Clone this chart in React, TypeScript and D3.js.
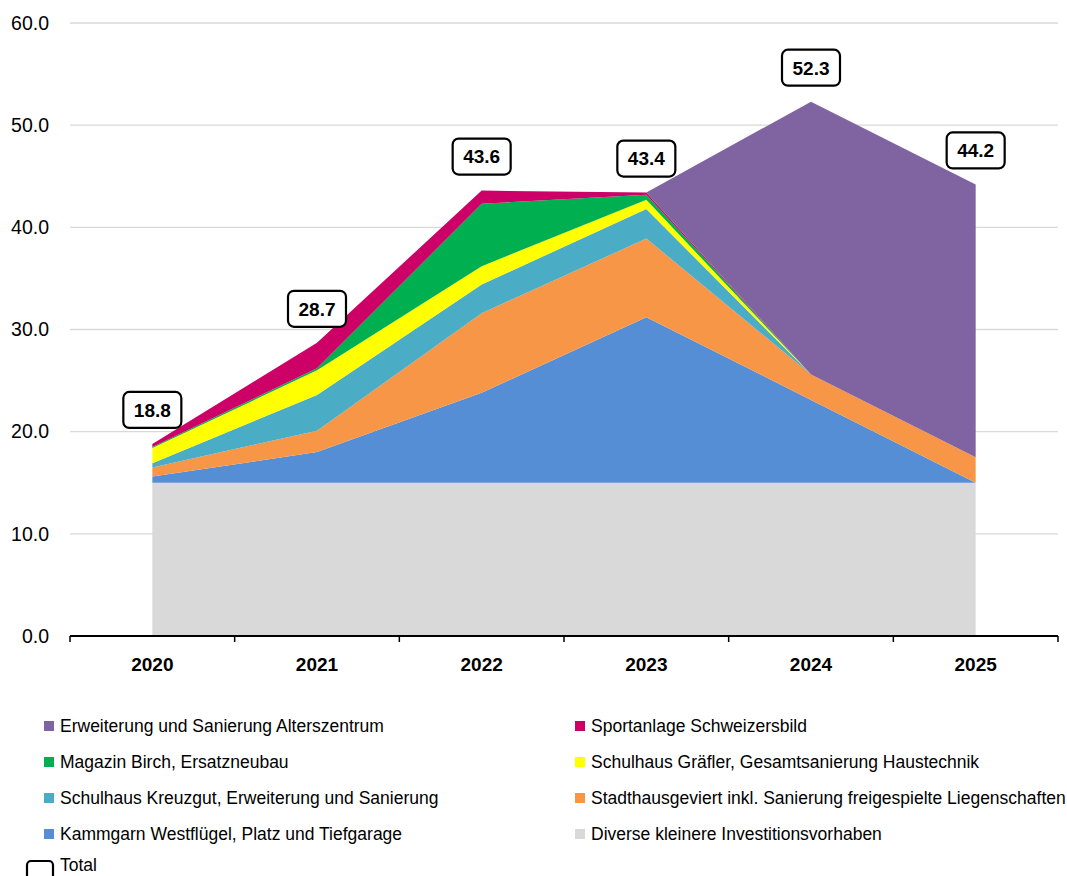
import React from "react";
import * as d3 from "d3";

const years = ["2020", "2021", "2022", "2023", "2024", "2025"];
const diverse = [15.0, 15.0, 15.0, 15.0, 15.0, 15.0];
const kammgarn = [0.6, 3.0, 8.8, 16.2, 8.1, 0.0];
const stadthaus = [0.9, 2.1, 7.8, 7.7, 2.5, 2.5];
const kreuzgut = [0.4, 3.5, 2.8, 2.9, 0.0, 0.0];
const graefler = [1.5, 2.4, 1.8, 0.9, 0.0, 0.0];
const magazin = [0.1, 0.2, 6.1, 0.5, 0.0, 0.0];
const sportanlage = [0.3, 2.5, 1.3, 0.2, 0.0, 0.0];
const alterszentrum = [0.0, 0.0, 0.0, 0.0, 26.7, 26.7];
const totals = [18.8, 28.7, 43.6, 43.4, 52.3, 44.2];
const yTicks = [0, 10, 20, 30, 40, 50, 60];

const seriesDefs = [
  { key: "diverse", name: "Diverse kleinere Investitionsvorhaben", values: diverse, color: "#D9D9D9" },
  { key: "kammgarn", name: "Kammgarn Westflügel, Platz und Tiefgarage", values: kammgarn, color: "#558ED5" },
  { key: "stadthaus", name: "Stadthausgeviert inkl. Sanierung freigespielte Liegenschaften", values: stadthaus, color: "#F79646" },
  { key: "kreuzgut", name: "Schulhaus Kreuzgut, Erweiterung und Sanierung", values: kreuzgut, color: "#4BACC6" },
  { key: "graefler", name: "Schulhaus Gräfler, Gesamtsanierung Haustechnik", values: graefler, color: "#FFFF00" },
  { key: "magazin", name: "Magazin Birch, Ersatzneubau", values: magazin, color: "#00B050" },
  { key: "sportanlage", name: "Sportanlage Schweizersbild", values: sportanlage, color: "#CC0066" },
  { key: "alterszentrum", name: "Erweiterung und Sanierung Alterszentrum", values: alterszentrum, color: "#8064A2" },
];

const legendOrder = [
  ["alterszentrum", "sportanlage"],
  ["magazin", "graefler"],
  ["kreuzgut", "stadthaus"],
  ["kammgarn", "diverse"],
];

const W = 1067;
const H = 876;
const FONT = "'Liberation Sans', Arial, sans-serif";

export default function App() {
  const x = d3.scaleBand<string>().domain(years).range([70, 1058]).padding(0);
  const cx = (yr: string) => (x(yr) as number) + x.bandwidth() / 2;
  const y = d3.scaleLinear().domain([0, 60]).range([636, 23]);

  const rows = years.map((yr, i) => {
    const r: any = { year: yr };
    seriesDefs.forEach((s) => (r[s.key] = s.values[i]));
    return r;
  });
  const stack = d3.stack<any>().keys(seriesDefs.map((s) => s.key));
  const stacked = stack(rows);
  const area = d3
    .area<any>()
    .x((d) => cx(d.data.year))
    .y0((d) => y(d[0]))
    .y1((d) => y(d[1]));

  const boundaries = years.map((yr) => x(yr) as number).concat([1058]);
  const byKey: any = {};
  seriesDefs.forEach((s) => (byKey[s.key] = s));

  return (
    <div style={{ position: "absolute", left: 0, top: 0 }}>
      <svg width={W} height={H} style={{ display: "block" }} fontFamily={FONT}>
        <rect width={W} height={H} fill="#fff" />
        {yTicks.filter((t) => t > 0).map((t) => (
          <line key={t} x1={70} x2={1058} y1={y(t)} y2={y(t)} stroke="#D9D9D9" strokeWidth={1.3} />
        ))}
        {stacked.map((layer, i) => (
          <path key={layer.key} d={area(layer as any) || ""} fill={seriesDefs[i].color} />
        ))}
        {yTicks.map((t) => (
          <text key={t} x={49} y={y(t)} dy="0.35em" textAnchor="end" fontSize={19.5} fill="#000">
            {t.toFixed(1)}
          </text>
        ))}
        <line x1={70} x2={1058} y1={y(0)} y2={y(0)} stroke="#000" strokeWidth={2} />
        {boundaries.map((b, i) => (
          <line key={i} x1={b} x2={b} y1={y(0)} y2={y(0) + 6} stroke="#000" strokeWidth={1.5} />
        ))}
        {years.map((yr) => (
          <text key={yr} x={cx(yr)} y={664} dy="0.35em" textAnchor="middle" fontSize={19} fontWeight="bold">
            {yr}
          </text>
        ))}
        {years.map((yr, i) => {
          const ty = y(totals[i]) - 16 - 18;
          return (
            <g key={yr}>
              <rect x={cx(yr) - 29} y={ty - 18} width={58} height={36} rx={6} fill="#fff" stroke="#000" strokeWidth={2.2} />
              <text x={cx(yr)} y={ty} dy="0.36em" textAnchor="middle" fontSize={19} fontWeight="bold">
                {totals[i].toFixed(1)}
              </text>
            </g>
          );
        })}
        {legendOrder.map((row, ri) =>
          row.map((k, ci) => {
            const s = byKey[k];
            const lx = ci === 0 ? 44 : 575;
            const ly = 726 + ri * 36;
            return (
              <g key={k}>
                <rect x={lx} y={ly - 5} width={10} height={10} fill={s.color} />
                <text x={lx + 16} y={ly} dy="0.35em" fontSize={17.5}>
                  {s.name}
                </text>
              </g>
            );
          })
        )}
        <rect x={27} y={861} width={26} height={20} rx={4} fill="#fff" stroke="#000" strokeWidth={2.2} />
        <text x={60} y={871} fontSize={17.5}>
          Total
        </text>
      </svg>
    </div>
  );
}
